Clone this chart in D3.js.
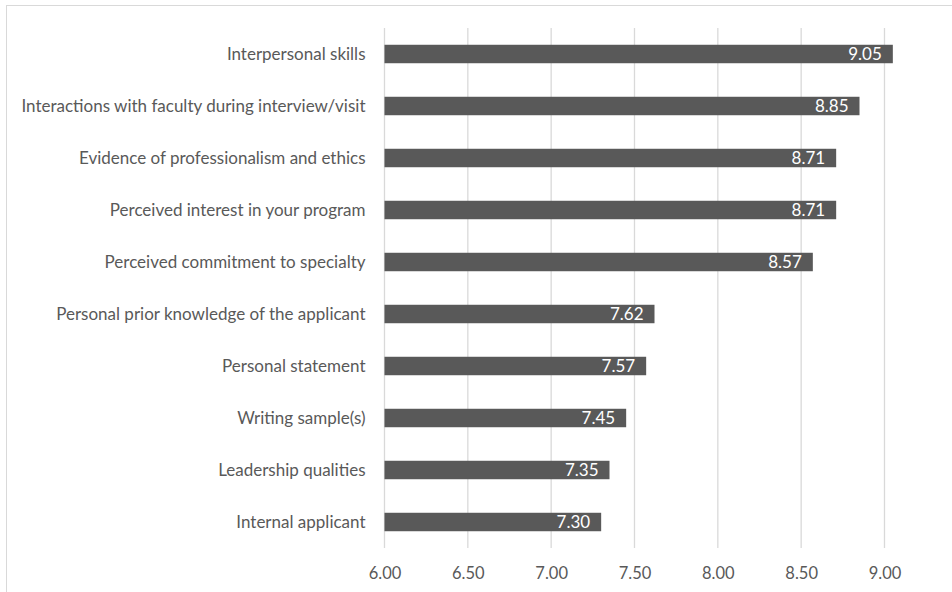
<!DOCTYPE html>
<html>
<head>
<meta charset="utf-8">
<script src="https://cdn.jsdelivr.net/npm/d3@7"></script>
<style>
  body { margin: 0; background: #fff; }
  text { font-family: Lato, "Noto Sans", sans-serif; }
</style>
</head>
<body>
<script>
var width = 952;
var height = 592;

var categories = [
    "Interpersonal skills",
    "Interactions with faculty during interview/visit",
    "Evidence of professionalism and ethics",
    "Perceived interest in your program",
    "Perceived commitment to specialty",
    "Personal prior knowledge of the applicant",
    "Personal statement",
    "Writing sample(s)",
    "Leadership qualities",
    "Internal applicant"
];
var values = [9.05, 8.85, 8.71, 8.71, 8.57, 7.62, 7.57, 7.45, 7.35, 7.30];
var ticks = [6.00, 6.50, 7.00, 7.50, 8.00, 8.50, 9.00];

var svg = d3.select('body').append('svg')
    .attr('width', width)
    .attr('height', height);

// chart border
svg.append('rect')
    .attr('x', 6.5).attr('y', 5.5)
    .attr('width', 960).attr('height', 600)
    .attr('fill', 'none')
    .attr('stroke', '#d9d9d9');

var x = d3.scaleLinear()
    .domain([6, 9])
    .range([384.5, 884.5]);

var y = d3.scaleBand()
    .domain(categories)
    .range([28, 548])
    .paddingInner(0.645)
    .paddingOuter(0.3225);

// gridlines
svg.selectAll('.grid')
    .data(ticks)
    .enter()
    .append('line')
    .attr('class', 'grid')
    .attr('x1', function (d) { return x(d); })
    .attr('x2', function (d) { return x(d); })
    .attr('y1', 28)
    .attr('y2', 548)
    .attr('stroke', '#d9d9d9')
    .attr('stroke-width', 1.3);

// x axis labels
var xAxis = d3.axisBottom(x)
    .tickValues(ticks)
    .tickFormat(d3.format('.2f'))
    .tickSize(0)
    .tickPadding(19);

var gx = svg.append('g')
    .attr('transform', 'translate(0,548)')
    .call(xAxis);
gx.select('.domain').remove();
gx.selectAll('text')
    .attr('fill', '#595959')
    .style('font-size', '16.5px')
    .style('font-family', 'Lato, "Noto Sans", sans-serif');

// y axis labels
var yAxis = d3.axisLeft(y)
    .tickSize(0)
    .tickPadding(19);

var gy = svg.append('g')
    .attr('transform', 'translate(384.5,0)')
    .call(yAxis);
gy.select('.domain').remove();
gy.selectAll('text')
    .attr('fill', '#595959')
    .attr('dy', '0.38em')
    .style('font-size', '17px')
    .style('font-family', 'Lato, "Noto Sans", sans-serif');

// bars
svg.selectAll('.bar')
    .data(values)
    .enter()
    .append('rect')
    .attr('class', 'bar')
    .attr('x', x(6))
    .attr('y', function (d, i) { return y(categories[i]); })
    .attr('width', function (d) { return x(d) - x(6); })
    .attr('height', y.bandwidth())
    .attr('fill', '#595959');

// value labels
svg.selectAll('.val')
    .data(values)
    .enter()
    .append('text')
    .attr('class', 'val')
    .attr('x', function (d) { return x(d) - 11; })
    .attr('y', function (d, i) { return y(categories[i]) + y.bandwidth() / 2; })
    .attr('dy', '0.38em')
    .attr('text-anchor', 'end')
    .attr('fill', '#fff')
    .style('font-size', '17px')
    .text(function (d) { return d.toFixed(2); });
</script>
</body>
</html>
